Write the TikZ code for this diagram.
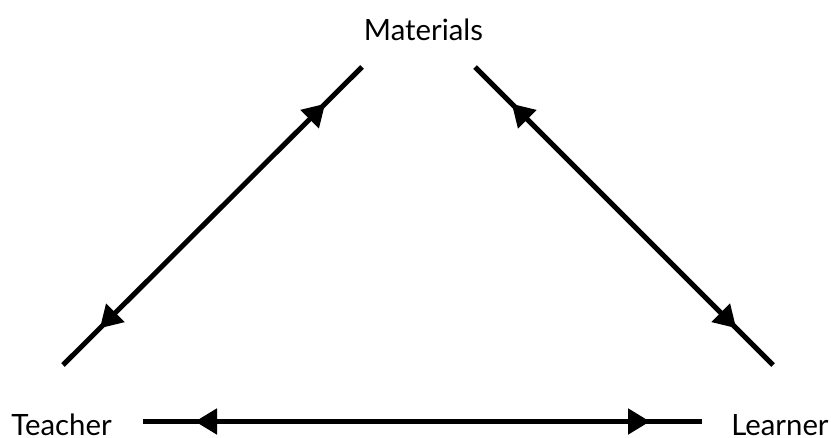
\documentclass[tikz,border=0pt]{standalone}
\usepackage{fontspec}
\setmainfont{Lato}
\usetikzlibrary{arrows.meta,decorations.markings}
\tikzset{
  lbl/.style={inner sep=0pt, anchor=base, font=\fontsize{22}{26}\selectfont},
  duo/.style={line width=3.75pt, postaction={decorate},
    decoration={markings,
      mark=at position 39pt with {\arrowreversed{Triangle[length=16.5pt,width=18.75pt]}},
      mark=at position -39pt with {\arrow{Triangle[length=16.5pt,width=18.75pt]}}}}
}
\begin{document}
\begin{tikzpicture}[x=0.75pt,y=-0.75pt]
\useasboundingbox (0,0) rectangle (831,438);
\node[lbl] (mat) at (423.5,40.7) {Materials};
\node[lbl] (tea) at (61.5,435) {Teacher};
\node[lbl] (lea) at (780,435) {Learner};
\coordinate (tb) at (143,421.5);
\coordinate (lb) at (702,421.5);
\coordinate (tu) at (63,365);
\coordinate (ml) at (362,67);
\coordinate (mr) at (475,67);
\coordinate (lu) at (773,365);
\draw[duo] (tb) -- (lb);
\draw[duo] (tu) -- (ml);
\draw[duo] (mr) -- (lu);
\end{tikzpicture}
\end{document}
